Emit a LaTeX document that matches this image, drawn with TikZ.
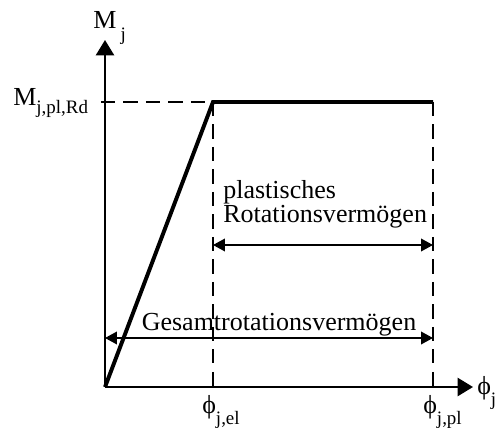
\documentclass[tikz,border=0pt]{standalone}
\usepackage{fontspec}
\setmainfont{Liberation Serif}
\usetikzlibrary{arrows.meta}

\newcommand{\idx}[2][8.5pt]{\raisebox{-#1}{\fontsize{13.5}{13.5}\selectfont #2}}

\begin{document}
\begin{tikzpicture}[
    axis/.style={line width=1.4pt, -{Triangle[length=11pt,width=13pt]}},
    curve/.style={line width=2.8pt, line join=miter},
    guide/.style={line width=0.8pt, dash pattern=on 10pt off 6pt},
    dim/.style={line width=1pt, {Triangle[length=8.5pt,width=9pt]}-{Triangle[length=8.5pt,width=9pt]}},
    lbl/.style={font=\fontsize{18.5}{18.5}\selectfont, inner sep=0pt},
    txt/.style={font=\fontsize{18.5}{18.5}\selectfont, inner sep=0pt}]
    \useasboundingbox (-2.625,-1.0) rectangle (9.825,9.675);

    % axes
    \coordinate (O) at (0,0);
    \coordinate (ytop) at (0,8.675);
    \coordinate (xend) at (9.2,0);
    \draw[axis] (O) -- (ytop);
    \draw[axis] (O) -- (xend);

    % moment-rotation curve
    \coordinate (E) at (2.7,7.125);
    \coordinate (P) at (8.2,7.125);
    \coordinate (mpl) at (-0.1,7.125);
    \coordinate (Eb) at (2.7,0);
    \coordinate (Pb) at (8.2,0);
    \draw[guide] (mpl) -- (E);
    \draw[guide] (E) -- (Eb);
    \draw[guide] (P) -- (Pb);
    \draw[curve] (O) -- (E) -- (P);

    % rotation capacities
    \coordinate (d1) at (2.7,3.55);
    \coordinate (d2) at (8.2,3.55);
    \coordinate (g1) at (0,1.225);
    \coordinate (g2) at (8.2,1.225);
    \draw[dim] (d1) -- (d2);
    \draw[dim] (g1) -- (g2);
    \node[txt, anchor=base west] (plast) at (2.95,4.725) {plastisches};
    \node[txt, anchor=base west] (rot) at (2.95,4.125) {Rotationsvermögen};
    \node[txt, anchor=base] (gesamt) at (4.35,1.425) {Gesamtrotationsvermögen};

    % axis labels
    \node[lbl, anchor=base west] (Mj) at (-0.3,8.95) {M\,\idx{j}};
    \node[lbl, anchor=base west] (Mrd) at (-2.3,7.05) {M\idx[6pt]{j,pl,Rd}};
    \node[lbl, anchor=base west] (phiel) at (2.425,-0.65) {ϕ\idx{j,el}};
    \node[lbl, anchor=base west] (phipl) at (7.95,-0.65) {ϕ\idx{j,pl}};
    \node[lbl, anchor=base west] (phij) at (9.3,-0.175) {ϕ\idx{j}};
\end{tikzpicture}
\end{document}
